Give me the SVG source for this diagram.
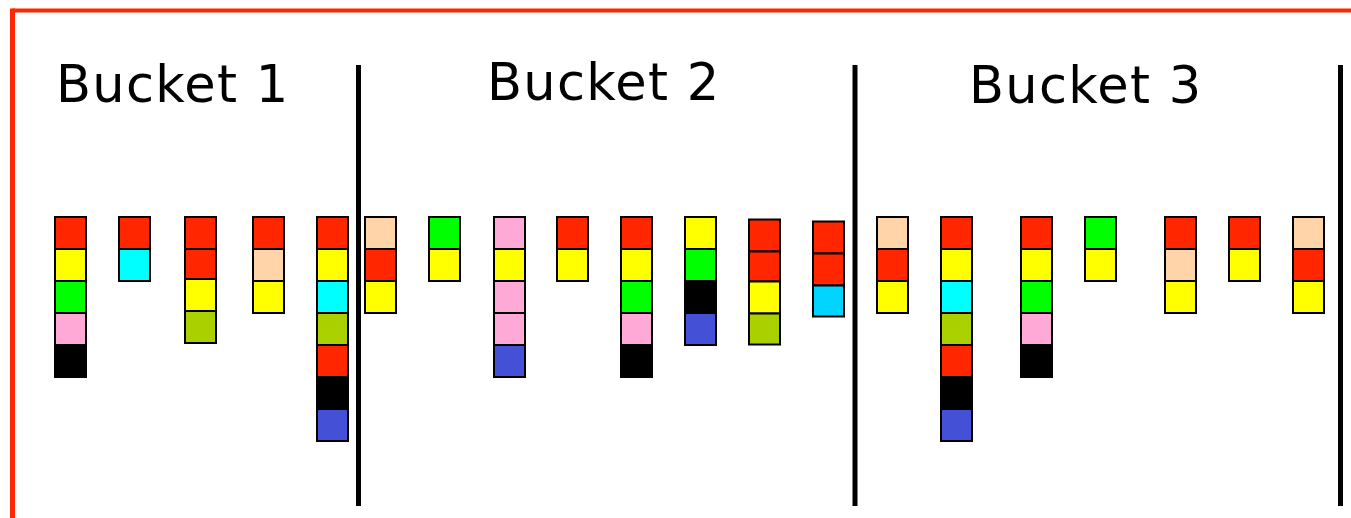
<svg xmlns="http://www.w3.org/2000/svg" width="1351" height="518" viewBox="0 0 1351 518">
<style>
.t{font-family:"DejaVu Sans",Verdana,sans-serif;font-size:51px;letter-spacing:1.3px;fill:#000}
.s{stroke:#000;stroke-width:2}
.R{fill:#FF2600}.Y{fill:#FFFF00}.G{fill:#00FF00}.P{fill:#FFAAD6}.K{fill:#000}.C{fill:#00FFFF}.O{fill:#AAD000}.E{fill:#FFD4A8}.B{fill:#4450D6}.L{fill:#00D4FF}
.div{stroke:#000;stroke-width:5}
</style>
<rect width="1351" height="518" fill="#fff"/>
<g id="frame" stroke="#FF2600" fill="none">
<line x1="12.5" y1="10.5" x2="1351" y2="10.5" stroke-width="4"/>
<line x1="12.5" y1="8.5" x2="12.5" y2="518" stroke-width="5"/>
</g>
<g id="dividers">
<line class="div" x1="358.5" y1="65" x2="358.5" y2="506"/>
<line class="div" x1="855" y1="65" x2="855" y2="506"/>
<line class="div" x1="1340.5" y1="65" x2="1340.5" y2="506"/>
</g>
<g id="labels">
<text class="t" x="56" y="102">Bucket 1</text>
<text class="t" x="487" y="100">Bucket 2</text>
<text class="t" x="969" y="103">Bucket 3</text>
</g>
<g id="b1c1" class="s"><rect class="R" x="55" y="217" width="31" height="32"/><rect class="Y" x="55" y="249" width="31" height="32"/><rect class="G" x="55" y="281" width="31" height="32"/><rect class="P" x="55" y="313" width="31" height="32"/><rect class="K" x="55" y="345" width="31" height="32"/></g>
<g id="b1c2" class="s"><rect class="R" x="119" y="217" width="31" height="32"/><rect class="C" x="119" y="249" width="31" height="32"/></g>
<g id="b1c3" class="s"><rect class="R" x="185" y="217" width="31" height="32"/><rect class="R" x="185" y="249" width="31" height="30"/><rect class="Y" x="185" y="279" width="31" height="32"/><rect class="O" x="185" y="311" width="31" height="32"/></g>
<g id="b1c4" class="s"><rect class="R" x="253" y="217" width="31" height="32"/><rect class="E" x="253" y="249" width="31" height="32"/><rect class="Y" x="253" y="281" width="31" height="32"/></g>
<g id="b1c5" class="s"><rect class="R" x="317" y="217" width="31" height="32"/><rect class="Y" x="317" y="249" width="31" height="32"/><rect class="C" x="317" y="281" width="31" height="32"/><rect class="O" x="317" y="313" width="31" height="32"/><rect class="R" x="317" y="345" width="31" height="32"/><rect class="K" x="317" y="377" width="31" height="32"/><rect class="B" x="317" y="409" width="31" height="32"/></g>
<g id="b2c1" class="s"><rect class="E" x="365" y="217" width="31" height="32"/><rect class="R" x="365" y="249" width="31" height="32"/><rect class="Y" x="365" y="281" width="31" height="32"/></g>
<g id="b2c2" class="s"><rect class="G" x="429" y="217" width="31" height="32"/><rect class="Y" x="429" y="249" width="31" height="32"/></g>
<g id="b2c3" class="s"><rect class="P" x="494" y="217" width="31" height="32"/><rect class="Y" x="494" y="249" width="31" height="32"/><rect class="P" x="494" y="281" width="31" height="32"/><rect class="P" x="494" y="313" width="31" height="32"/><rect class="B" x="494" y="345" width="31" height="32"/></g>
<g id="b2c4" class="s"><rect class="R" x="557" y="217" width="31" height="32"/><rect class="Y" x="557" y="249" width="31" height="32"/></g>
<g id="b2c5" class="s"><rect class="R" x="621" y="217" width="31" height="32"/><rect class="Y" x="621" y="249" width="31" height="32"/><rect class="G" x="621" y="281" width="31" height="32"/><rect class="P" x="621" y="313" width="31" height="32"/><rect class="K" x="621" y="345" width="31" height="32"/></g>
<g id="b2c6" class="s"><rect class="Y" x="685" y="217" width="31" height="32"/><rect class="G" x="685" y="249" width="31" height="32"/><rect class="K" x="685" y="281" width="31" height="32"/><rect class="B" x="685" y="313" width="31" height="32"/></g>
<g id="b2c7" class="s"><rect class="R" x="749" y="219.5" width="31" height="32"/><rect class="R" x="749" y="251.5" width="31" height="30"/><rect class="Y" x="749" y="281.5" width="31" height="32"/><rect class="O" x="749" y="313.5" width="31" height="31"/></g>
<g id="b2c8" class="s"><rect class="R" x="813" y="221.5" width="31" height="32"/><rect class="R" x="813" y="253.5" width="31" height="32"/><rect class="L" x="813" y="285.5" width="31" height="31"/></g>
<g id="b3c1" class="s"><rect class="E" x="877" y="217" width="31" height="32"/><rect class="R" x="877" y="249" width="31" height="32"/><rect class="Y" x="877" y="281" width="31" height="32"/></g>
<g id="b3c2" class="s"><rect class="R" x="941" y="217" width="31" height="32"/><rect class="Y" x="941" y="249" width="31" height="32"/><rect class="C" x="941" y="281" width="31" height="32"/><rect class="O" x="941" y="313" width="31" height="32"/><rect class="R" x="941" y="345" width="31" height="32"/><rect class="K" x="941" y="377" width="31" height="32"/><rect class="B" x="941" y="409" width="31" height="32"/></g>
<g id="b3c3" class="s"><rect class="R" x="1021" y="217" width="31" height="32"/><rect class="Y" x="1021" y="249" width="31" height="32"/><rect class="G" x="1021" y="281" width="31" height="32"/><rect class="P" x="1021" y="313" width="31" height="32"/><rect class="K" x="1021" y="345" width="31" height="32"/></g>
<g id="b3c4" class="s"><rect class="G" x="1085" y="217" width="31" height="32"/><rect class="Y" x="1085" y="249" width="31" height="32"/></g>
<g id="b3c5" class="s"><rect class="R" x="1165" y="217" width="31" height="32"/><rect class="E" x="1165" y="249" width="31" height="32"/><rect class="Y" x="1165" y="281" width="31" height="32"/></g>
<g id="b3c6" class="s"><rect class="R" x="1229" y="217" width="31" height="32"/><rect class="Y" x="1229" y="249" width="31" height="32"/></g>
<g id="b3c7" class="s"><rect class="E" x="1293" y="217" width="31" height="32"/><rect class="R" x="1293" y="249" width="31" height="32"/><rect class="Y" x="1293" y="281" width="31" height="32"/></g>
</svg>
